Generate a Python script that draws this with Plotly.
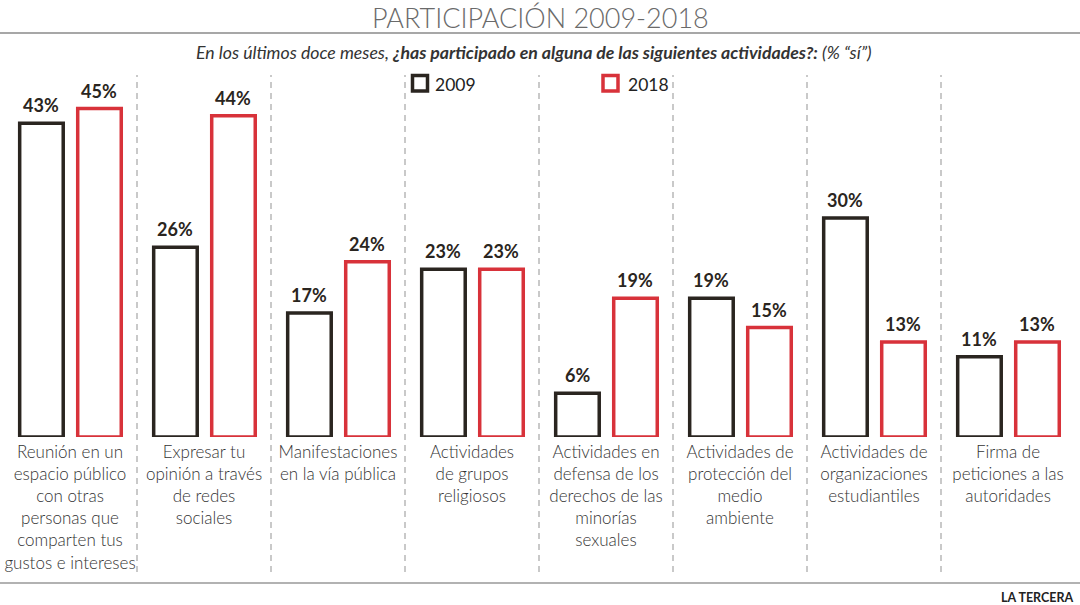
import plotly.graph_objects as go

categories = [
    "Reunión en un<br>espacio público<br>con otras<br>personas que<br>comparten tus<br>gustos e intereses",
    "Expresar tu<br>opinión a través<br>de redes<br>sociales",
    "Manifestaciones<br>en la vía pública",
    "Actividades<br>de grupos<br>religiosos",
    "Actividades en<br>defensa de los<br>derechos de las<br>minorías<br>sexuales",
    "Actividades de<br>protección del<br>medio<br>ambiente",
    "Actividades de<br>organizaciones<br>estudiantiles",
    "Firma de<br>peticiones a las<br>autoridades",
]
values_2009 = [43, 26, 17, 23, 6, 19, 30, 11]
values_2018 = [45, 44, 24, 23, 19, 15, 13, 13]
series_names = ["2009", "2018"]

BLACK = "#2a2520"
RED = "#d8323a"
W, H = 1080, 605
XMIN, XMAX = -70 / 134, 1010 / 134
idx = list(range(len(categories)))

fig = go.Figure()
annotations = []
for vals, off, col, name in [(values_2009, -0.213, BLACK, series_names[0]),
                             (values_2018, 0.22, RED, series_names[1])]:
    xs = [i + off for i in idx]
    fig.add_trace(go.Bar(
        x=xs, y=vals, width=0.325, name=name,
        marker=dict(color="rgba(255,255,255,0)", line=dict(color=col, width=3.5)),
        cliponaxis=False, showlegend=False, hoverinfo="y",
    ))
    for x, v in zip(xs, vals):
        annotations.append(dict(x=x, y=v, xref="x", yref="y", text=f"<b>{v}%</b>",
                                showarrow=False, xanchor="center", yanchor="bottom", yshift=5,
                                font=dict(family="Lato", size=18, color=BLACK)))

def py(p):
    return (437 - p) / 362

shapes = []
for i in idx[:-1]:
    px = (i + 0.5 - XMIN) / (XMAX - XMIN)
    shapes.append(dict(type="line", xref="paper", yref="paper", x0=px, x1=px,
                       y0=py(572), y1=py(75), line=dict(color="#c9c9c9", width=2, dash="6px,5px")))
shapes.append(dict(type="line", xref="paper", yref="paper", x0=0.0, x1=1.0,
                   y0=py(33), y1=py(33), line=dict(color="#8a8a8a", width=1.5)))
shapes.append(dict(type="line", xref="paper", yref="paper", x0=0.0, x1=1.0,
                   y0=py(583), y1=py(583), line=dict(color="#999999", width=1.5)))
shapes.append(dict(type="rect", xref="paper", yref="paper", x0=412.5 / W, x1=427.5 / W,
                   y0=py(91), y1=py(75.5), line=dict(color=BLACK, width=3.5)))
shapes.append(dict(type="rect", xref="paper", yref="paper", x0=603 / W, x1=618 / W,
                   y0=py(91), y1=py(75.5), line=dict(color=RED, width=3.5)))

annotations += [
    dict(text="PARTICIPACIÓN 2009-2018", xref="paper", yref="paper", x=0.5, y=py(17),
         xanchor="center", yanchor="middle", showarrow=False,
         font=dict(family="Lato", size=27, color="#6a6a6a", weight=300)),
    dict(text="<i>En los últimos doce meses, <b>¿has participado en alguna de las siguientes actividades?:</b> (% \u201csí\u201d)</i>",
         xref="paper", yref="paper", x=0.5 - 6 / W, y=py(52), xanchor="center", yanchor="middle",
         showarrow=False, font=dict(family="Lato", size=17.7, color="#333333")),
    dict(text=series_names[0], xref="paper", yref="paper", x=433 / W, y=py(84), xanchor="left",
         yanchor="middle", showarrow=False, font=dict(family="Lato", size=17.5, color="#222222")),
    dict(text=series_names[1], xref="paper", yref="paper", x=626 / W, y=py(84), xanchor="left",
         yanchor="middle", showarrow=False, font=dict(family="Lato", size=17.5, color="#222222")),
    dict(text="<b>LA TERCERA</b>", xref="paper", yref="paper", x=1076 / W, y=py(597), xanchor="right",
         yanchor="middle", showarrow=False, font=dict(family="Lato", size=12.5, color="#222222")),
]

fig.update_layout(
    width=W, height=H, margin=dict(l=0, r=0, t=75, b=168),
    paper_bgcolor="white", plot_bgcolor="white", barmode="overlay",
    shapes=shapes, annotations=annotations,
    xaxis=dict(range=[XMIN, XMAX], tickvals=idx, ticktext=categories, showgrid=False,
               zeroline=False, showline=False, ticks="", ticklabelstandoff=3,
               tickfont=dict(family="Lato", size=17, color="#333333", weight=300)),
    yaxis=dict(range=[0, 49.6], visible=False, showgrid=False, zeroline=False),
)
fig.write_html("out.html")
